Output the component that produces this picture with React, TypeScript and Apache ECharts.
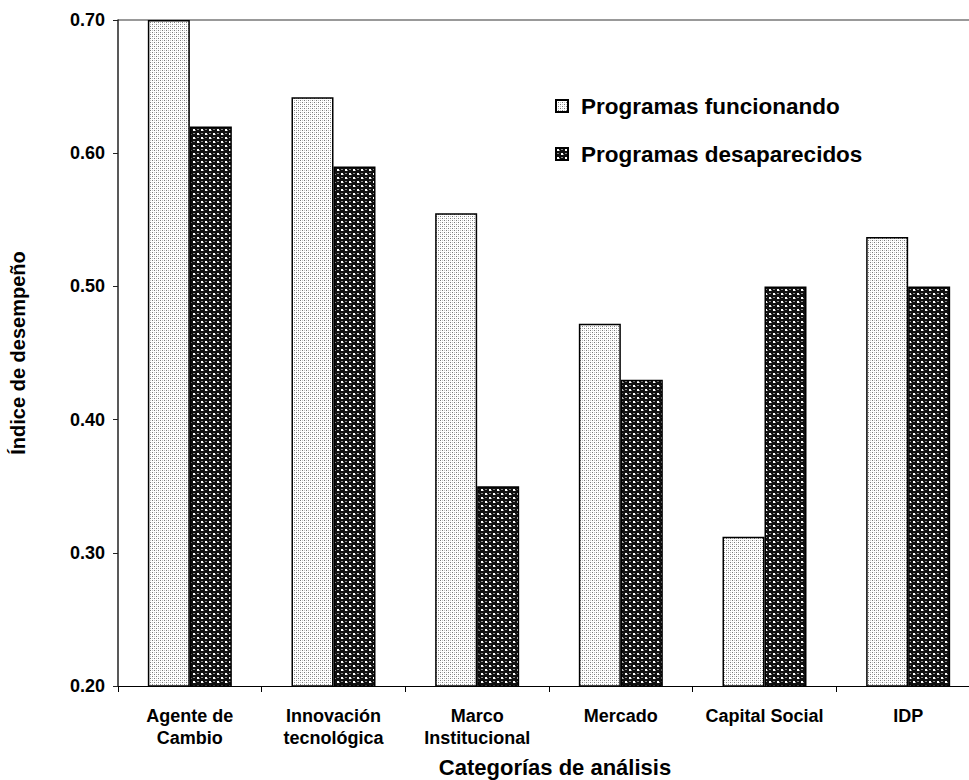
import React, { useEffect, useRef } from "react";
import * as echarts from "echarts";

const categories = [
  "Agente de\nCambio",
  "Innovación\ntecnológica",
  "Marco\nInstitucional",
  "Mercado",
  "Capital Social",
  "IDP",
];
const funcionando = [0.70, 0.642, 0.555, 0.472, 0.312, 0.537];
const desaparecidos = [0.62, 0.59, 0.35, 0.43, 0.50, 0.50];
const yTicks = [0.2, 0.3, 0.4, 0.5, 0.6, 0.7];

const FONT = "'Liberation Sans', Arial, Helvetica, sans-serif";

function makeLight(): HTMLCanvasElement {
  const c = document.createElement("canvas");
  c.width = 4;
  c.height = 4;
  const g = c.getContext("2d")!;
  g.fillStyle = "#ffffff";
  g.fillRect(0, 0, 4, 4);
  g.fillStyle = "#7a7a7a";
  g.fillRect(0, 0, 1, 1);
  g.fillRect(2, 2, 1, 1);
  g.fillStyle = "#c4c4c4";
  g.fillRect(2, 0, 1, 1);
  g.fillRect(0, 2, 1, 1);
  return c;
}

function makeDark(): HTMLCanvasElement {
  const c = document.createElement("canvas");
  c.width = 8;
  c.height = 8;
  const g = c.getContext("2d")!;
  g.fillStyle = "#101010";
  g.fillRect(0, 0, 8, 8);
  g.fillStyle = "#ffffff";
  g.fillRect(1, 1, 2, 2);
  g.fillRect(5, 5, 2, 2);
  g.fillStyle = "#8a8a8a";
  g.fillRect(5, 1, 2, 1);
  g.fillRect(1, 5, 2, 1);
  g.fillRect(3, 2, 1, 1);
  g.fillRect(7, 6, 1, 1);
  return c;
}

export default function App() {
  const ref = useRef<HTMLDivElement>(null);
  useEffect(() => {
    if (!ref.current) return;
    const chart = echarts.init(ref.current, undefined, { renderer: "svg" });
    const lightPat: any = { image: makeLight(), repeat: "repeat", imageWidth: 4, imageHeight: 4 };
    const darkPat: any = { image: makeDark(), repeat: "repeat", imageWidth: 8, imageHeight: 8 };
    chart.setOption({
      animation: false,
      backgroundColor: "#ffffff",
      textStyle: { fontFamily: FONT },
      grid: { left: 110, right: 0, top: 20, bottom: 94, containLabel: false },
      legend: {
        orient: "vertical",
        left: 550,
        top: 89,
        itemWidth: 12,
        itemHeight: 12,
        itemGap: 24,
        icon: "rect",
        textStyle: {
          fontFamily: FONT,
          fontSize: 22.5,
          fontWeight: "bold",
          color: "#000",
          lineHeight: 24,
          padding: [0, 0, 0, 8],
        },
        data: ["Programas funcionando", "Programas desaparecidos"],
      },
      xAxis: {
        type: "category",
        data: categories,
        axisLine: { lineStyle: { color: "#000", width: 1.2 } },
        axisTick: { show: true, length: 6, lineStyle: { color: "#000" } },
        axisLabel: {
          interval: 0,
          margin: 19,
          fontFamily: FONT,
          fontSize: 18,
          fontWeight: "bold",
          color: "#000",
          lineHeight: 22,
        },
        splitLine: { show: false },
      },
      yAxis: {
        type: "value",
        min: 0.2,
        max: 0.7,
        interval: 0.1,
        name: "Índice de desempeño",
        nameLocation: "middle",
        nameGap: 90,
        nameTextStyle: {
          fontFamily: FONT,
          fontSize: 20,
          fontWeight: "bold",
          color: "#000",
        },
        axisLine: { show: true, lineStyle: { color: "#222", width: 1.5 } },
        axisTick: { show: true, length: 5, lineStyle: { color: "#222" } },
        axisLabel: {
          margin: 13,
          fontFamily: FONT,
          fontSize: 18,
          fontWeight: "bold",
          color: "#000",
          formatter: (v: number) => {
            const t = yTicks.find((x) => Math.abs(x - v) < 1e-6);
            return (t !== undefined ? t : v).toFixed(2);
          },
        },
        splitLine: {
          show: true,
          lineStyle: {
            color: ["transparent", "transparent", "transparent", "transparent", "transparent", "#999999"],
            width: 2,
          },
        },
      },
      graphic: [
        {
          type: "text",
          x: 555,
          y: 767,
          style: {
            text: "Categorías de análisis",
            fontFamily: FONT,
            fontSize: 22,
            fontWeight: "bold",
            fill: "#000",
            textAlign: "center",
            textVerticalAlign: "middle",
          },
        },
      ],
      series: [
        {
          name: "Programas funcionando",
          type: "bar",
          data: funcionando,
          barWidth: 42,
          barGap: "0%",
          itemStyle: { color: lightPat, borderColor: "#000", borderWidth: 1.5 },
        },
        {
          name: "Programas desaparecidos",
          type: "bar",
          data: desaparecidos,
          barWidth: 42,
          barGap: "0%",
          itemStyle: { color: darkPat, borderColor: "#000", borderWidth: 1.5 },
        },
      ],
    });
    return () => chart.dispose();
  }, []);
  return (
    <div
      style={{
        position: "fixed",
        left: 0,
        top: 0,
        width: 969,
        height: 780,
        overflow: "hidden",
        background: "#fff",
      }}
    >
      <div ref={ref} style={{ width: 980, height: 780 }} />
    </div>
  );
}
